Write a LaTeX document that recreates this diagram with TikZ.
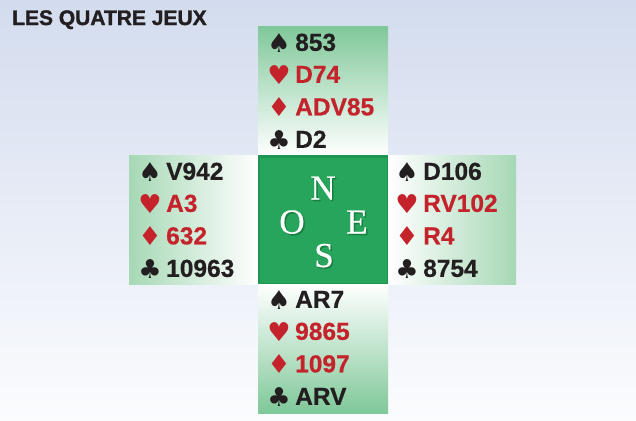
\documentclass[tikz,border=0pt]{standalone}
\usepackage{fontspec}
\setmainfont[BoldFeatures={FakeBold=0.6}]{Liberation Sans}
\newfontfamily\titlefont[BoldFeatures={FakeBold=1.5}]{Liberation Sans}
\newfontfamily\suitfont{DejaVu Sans}
\newfontfamily\compfont[FakeBold=0.5]{Liberation Serif}
\definecolor{bgtop}{HTML}{D3DCEE}
\definecolor{bgbot}{HTML}{FBFCFE}
\definecolor{panelg}{HTML}{7FC899}
\definecolor{panelh}{HTML}{A6D8B5}
\definecolor{tablegreen}{HTML}{27A55C}
\definecolor{tableedge}{HTML}{1E9550}
\definecolor{tableshadow}{HTML}{17803F}
\definecolor{cardred}{HTML}{C4232B}
\definecolor{cardblack}{HTML}{231F20}
\tikzset{
  cardtext/.style={anchor=base west,inner sep=0pt,font=\fontsize{24.5bp}{24.5bp}\selectfont\bfseries},
  suit/.style={anchor=base,inner sep=0pt,font=\fontsize{26bp}{26bp}\suitfont},
  blk/.style={text=cardblack},
  rd/.style={text=cardred},
  compass/.style={anchor=base,inner sep=0pt,text=white,font=\fontsize{35bp}{35bp}\compfont},
  compshadow/.style={anchor=base,inner sep=0pt,text=tableshadow,font=\fontsize{35bp}{35bp}\compfont},
}
\newcommand{\hand}[6]{%
  \node[suit,blk] (#1sp) at (#2,#4+1.5) {♠};
  \node[cardtext,blk] (#1a) at (#3,#4) {#5};
  \node[suit,rd] (#1he) at (#2,#4+33.5) {♥};
  \node[cardtext,rd] (#1b) at (#3,#4+32) {#6};
  \handb{#1}{#2}{#3}{#4}}
\newcommand{\handb}[6]{%
  \node[suit,rd] (#1di) at (#2,#4+66) {♦};
  \node[cardtext,rd] (#1c) at (#3,#4+64.5) {#5};
  \node[suit,blk] (#1cl) at (#2,#4+98.5) {♣};
  \node[cardtext,blk] (#1d) at (#3,#4+97) {#6};}
\begin{document}
\begin{tikzpicture}[x=1bp,y=-1bp]
\useasboundingbox (0,0) rectangle (636,420);
\shade[top color=bgtop,bottom color=bgbot] (0,0) rectangle (636,420);
\shade[top color=panelg,bottom color=white] (258,26) rectangle (388,155);
\shade[left color=panelh,right color=white] (129,155) rectangle (258,284);
\shade[left color=white,right color=panelh] (388,155) rectangle (516,284);
\shade[top color=white,bottom color=panelg] (258,284) rectangle (388,413);
\fill[tableedge] (258,155) rectangle (388,284);
\fill[tablegreen] (259.5,157.5) rectangle (386.5,282.5);
\node[anchor=base west,inner sep=0pt,text=cardblack,font=\fontsize{21bp}{21bp}\titlefont\bfseries] (title) at (12,25) {LES QUATRE JEUX};
\hand{n}{279}{295}{50.8}{853}{D74}{ADV85}{D2}
\hand{w}{150}{166}{179.8}{V942}{A3}{632}{10963}
\hand{e}{407}{423}{179.8}{D106}{RV102}{R4}{8754}
\hand{s}{279}{295}{307.8}{AR7}{9865}{1097}{ARV}
\foreach \nm/\ltr/\px/\py in {cn/N/323/199.5,co/O/292/233.5,ce/E/357/233.5,cs/S/324/267}{
  \node[compshadow] (\nm s) at (\px+1.5,\py+1.5) {\ltr};
  \node[compass] (\nm) at (\px,\py) {\ltr};
}
\end{tikzpicture}
\end{document}
